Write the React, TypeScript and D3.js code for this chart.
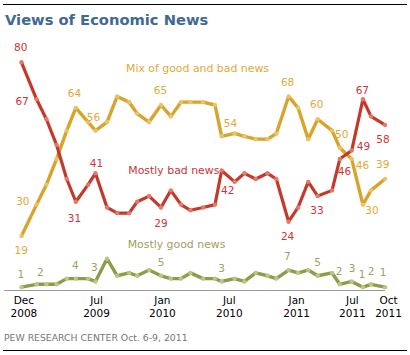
import React from "react";
import * as d3 from "d3";

// Survey dates (approximate field dates) and the three series (%)
const surveyDates = [
  "2008-12-05", "2009-01-17", "2009-02-14", "2009-03-15", "2009-04-13", "2009-05-09",
  "2009-06-13", "2009-07-04", "2009-08-06", "2009-09-04", "2009-10-08", "2009-10-31",
  "2009-12-04", "2010-01-07", "2010-02-04", "2010-03-05", "2010-04-01", "2010-05-07",
  "2010-06-10", "2010-06-29", "2010-08-05", "2010-09-02", "2010-10-04", "2010-11-07",
  "2010-12-02", "2011-01-06", "2011-02-02", "2011-03-03", "2011-03-30", "2011-05-10",
  "2011-06-01", "2011-07-05", "2011-08-06", "2011-08-29", "2011-10-08",
];
const mostlyBad = [
  80, 67, 60, 51, 39, 31, 37, 41, 29, 27, 27, 31, 33, 29, 35, 30, 28, 29,
  30, 42, 38, 41, 39, 41, 39, 24, 29, 38, 33, 35, 46, 49, 67, 61, 58,
];
const mixNews = [
  19, 30, 37, 46, 56, 64, 59, 56, 59, 68, 66, 62, 59, 65, 61, 66, 66, 66,
  65, 54, 55, 54, 53, 53, 55, 68, 64, 53, 60, 56, 50, 46, 30, 35, 39,
];
const mostlyGood = [
  1, 2, 2, 2, 4, 4, 4, 3, 11, 5, 6, 5, 7, 5, 4, 4, 6, 4,
  4, 3, 4, 3, 6, 5, 4, 7, 6, 7, 5, 6, 2, 3, 1, 2, 1,
];

// Axis labels
const tickDates = ["2008-12-12", "2009-07-07", "2010-01-11", "2010-07-21", "2011-01-29", "2011-07-07", "2011-10-18"];
const tickMonths = ["Dec", "Jul", "Jan", "Jul", "Jan", "Jul", "Oct"];
const tickYears = ["2008", "2009", "2010", "2010", "2011", "2011", "2011"];

// Which points carry a value label: [index, dx, dy]
const badLabelIdx = [[0, -0.8, -11.6], [1, -14.5, 5.7], [5, -1.3, 20], [7, 1, -6], [13, 0, 19.4], [19, 6, 23.3], [25, -1, 18.6], [28, -0.7, 17.6], [30, 4.7, 16], [31, 11.7, -0.7], [32, -0.6, -5], [34, -2, 17.6]];
const mixLabelIdx = [[0, -0.3, 18], [1, -13.7, 0], [5, -1.3, -10.6], [7, -2, -10], [13, -0.6, -10.7], [19, 8.8, -9.6], [25, -1, -10.5], [28, -1, -11], [30, 2, -9.4], [31, 10.8, 10], [32, 9, 9.4], [34, -2.3, -11.2]];
const goodLabelIdx = [[0, -0.7, -9.5], [1, 3.8, -8.6], [5, -0.5, -9.6], [7, -1, -10.8], [13, 0, -10], [19, 0, -9.8], [25, -1.2, -10], [28, 0, -10], [30, -0.7, -9.3], [31, 0.5, -9.8], [32, -0.8, -9.5], [33, 0, -9.3], [34, -1.8, -11]];

const FONT = "'DejaVu Sans', Verdana, sans-serif";

export default function App() {
  const parse = d3.timeParse("%Y-%m-%d");
  const dates = surveyDates.map((s) => parse(s) as Date);
  const x = d3.scaleTime().domain([dates[0], dates[dates.length - 1]]).range([21.5, 385]);
  const y = d3.scaleLinear().domain([0, 80]).range([290, 62.3]);

  const line = d3
    .line<number>()
    .x((_, i) => x(dates[i]))
    .y((d) => y(d));

  const series = [
    { values: mixNews, line: "#d8a42b", dot: "#e6c46a", text: "#dfa83a", labels: mixLabelIdx, width: 3.4 },
    { values: mostlyBad, line: "#c33a2b", dot: "#e07a6c", text: "#cf3438", labels: badLabelIdx, width: 3.2 },
    { values: mostlyGood, line: "#8f9b48", dot: "#bcc486", text: "#a0a060", labels: goodLabelIdx, width: 3.4 },
  ];

  return (
    <svg
      width={410}
      height={355}
      style={{ position: "absolute", left: 0, top: 0, background: "#fff" }}
      fontFamily={FONT}
    >
      <line x1={3} x2={407} y1={4.5} y2={4.5} stroke="#000" strokeWidth={1.2} />
      <text x={5} y={25} fontSize={14.7} fontWeight="bold" fill="#3e6a92">
        Views of Economic News
      </text>

      <line x1={4} x2={385} y1={290.5} y2={290.5} stroke="#999" strokeWidth={1.2} />

      {series.map((s, si) => (
        <g key={si}>
          <path d={line(s.values) || ""} fill="none" stroke={s.line} strokeWidth={s.width} strokeLinejoin="round" strokeLinecap="round" />
          {s.values.map((v, i) => (
            <circle key={i} cx={x(dates[i])} cy={y(v)} r={2.2} fill={s.dot} />
          ))}
        </g>
      ))}

      {series.map((s, si) => (
        <g key={"l" + si} fontSize={10.5} fill={s.text} textAnchor="middle">
          {s.labels.map(([i, dx, dy]) => (
            <text key={i} x={x(dates[i]) + dx} y={y(s.values[i]) + dy}>
              {s.values[i]}
            </text>
          ))}
        </g>
      ))}

      <text x={126} y={71.7} fontSize={10.9} fill="#dfa83a">Mix of good and bad news</text>
      <text x={128.3} y={174} fontSize={10.9} fill="#cf3438">Mostly bad news</text>
      <text x={127.7} y={248.3} fontSize={10.9} fill="#a0a060">Mostly good news</text>

      <g fontSize={10.5} fill="#000" textAnchor="middle">
        {tickDates.map((t, i) => {
          const tx = x(parse(t) as Date);
          return (
            <g key={i}>
              <text x={tx} y={304}>{tickMonths[i]}</text>
              <text x={tx} y={317.3}>{tickYears[i]}</text>
            </g>
          );
        })}
      </g>

      <text x={4} y={340.7} fontSize={9.3} fill="#777">PEW RESEARCH  CENTER Oct. 6-9, 2011</text>
      <line x1={3} x2={407} y1={350.5} y2={350.5} stroke="#000" strokeWidth={1.2} />
    </svg>
  );
}
